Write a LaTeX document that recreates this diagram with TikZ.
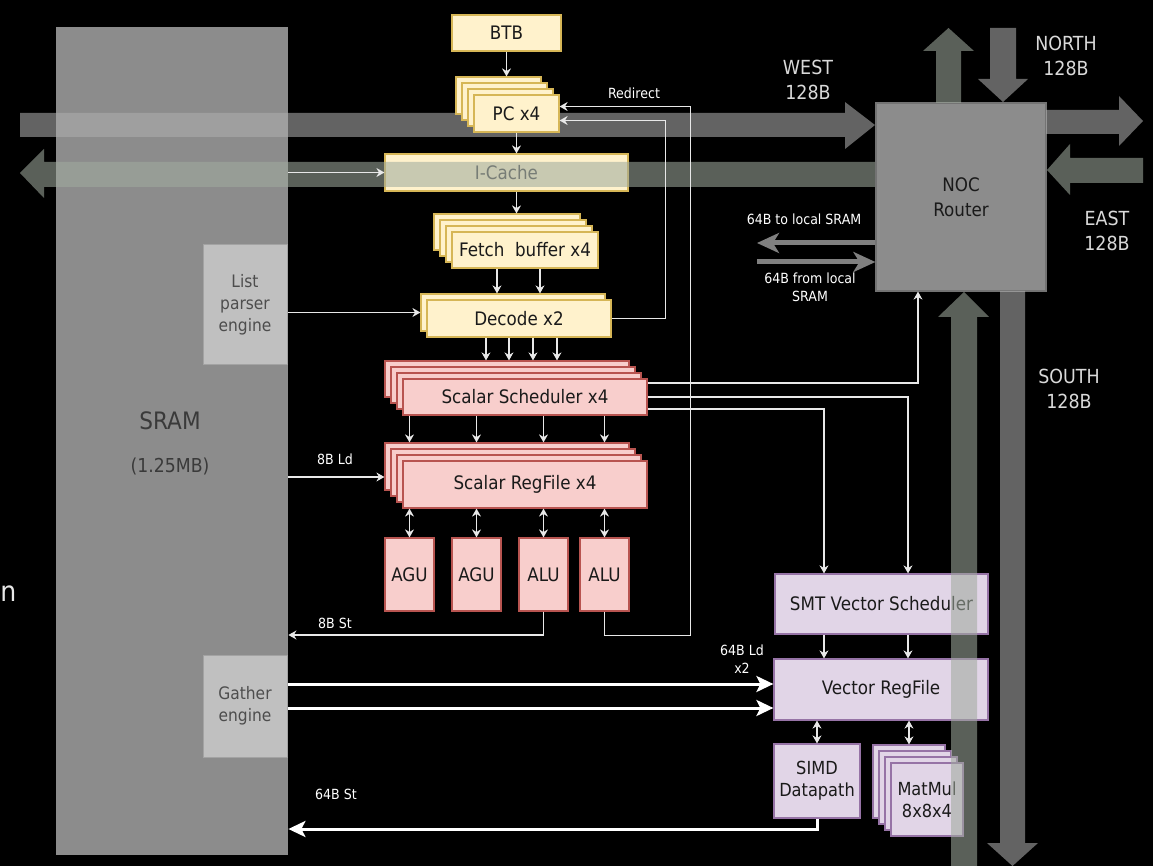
\documentclass[tikz,border=0pt]{standalone}
\usepackage{fontspec}
\setmainfont{DejaVu Sans}[FakeStretch=0.9]
\usetikzlibrary{arrows.meta, calc}

\definecolor{ylwfill}{HTML}{FFF2CC}
\definecolor{ylwline}{HTML}{D6B656}
\definecolor{redfill}{HTML}{F8CECC}
\definecolor{redline}{HTML}{B85450}
\definecolor{purfill}{HTML}{E1D5E7}
\definecolor{purline}{HTML}{9673A6}
\definecolor{sramfill}{HTML}{8C8C8C}
\definecolor{sramtext}{HTML}{3A3A3A}
\definecolor{engfill}{HTML}{C0C0C0}
\definecolor{engtext}{HTML}{4D4D4D}
\definecolor{routerline}{HTML}{737373}
\definecolor{boxtext}{HTML}{1A1A1A}
\definecolor{wline}{HTML}{E8E8E8}
\definecolor{dirtext}{HTML}{D9D9D9}
\definecolor{nocline}{HTML}{808080}
\definecolor{bandgray}{RGB}{175,175,175}
\definecolor{bandgreen}{RGB}{160,170,158}

\begin{document}
\begin{tikzpicture}[
  x=0.5pt, y=-0.5pt,
  font=\fontsize{9.3}{12}\selectfont,
  every node/.style={align=center, inner sep=0pt},
  spot/.style args={#1/#2/#3/#4}{at={({((#1)+(#3))/2},{((#2)+(#4))/2})},
    minimum width={((#3)-(#1))*0.5pt}, minimum height={((#4)-(#2))*0.5pt}},
  ybox/.style={draw=ylwline, fill=ylwfill, line width=0.6pt, text=boxtext},
  rbox/.style={draw=redline, fill=redfill, line width=0.6pt, text=boxtext},
  pbox/.style={draw=purline, fill=purfill, line width=0.6pt, text=boxtext},
  engbox/.style={fill=engfill, draw=engfill!85!black, line width=0.5pt, text=engtext,
    font=\fontsize{8.6}{11}\selectfont},
  twoline/.style={font=\fontsize{9}{11}\selectfont},
  arr/.style={-{Stealth[length=4pt,width=4.5pt]}, line width=0.65pt, draw=wline},
  dbl/.style={arr, {Stealth[length=4pt,width=4.5pt]}-{Stealth[length=4pt,width=4.5pt]}},
  fat/.style={-{Stealth[length=8.5pt,width=8pt,inset=2pt]}, line width=1.5pt, draw=white},
  noc/.style={-{Stealth[length=11pt,width=10pt,inset=3pt]}, line width=2.5pt, draw=nocline},
  lbl/.style={font=\fontsize{7}{9}\selectfont, text=white},
  dir/.style={font=\fontsize{9.7}{12.5}\selectfont, text=dirtext},
  band/.style={fill=bandgray, fill opacity=0.57},
  bandg/.style={fill=bandgreen, fill opacity=0.57},
]

\useasboundingbox (0,0) rectangle (1153,866);
\fill[black] (0,0) rectangle (1153,866);

% local memory
\node[fill=sramfill, spot=56/27/288/855] (sram) {};
\node[font=\fontsize{12}{14}\selectfont, text=sramtext] (sramname) at (170,421) {SRAM};
\node[font=\fontsize{9.6}{12}\selectfont, text=sramtext] (sramsize) at (170,466) {(1.25MB)};
\node[engbox, spot=203/245/287/365] (list) {List\\parser\\engine};
\node[engbox, spot=203/655/287/757] (gather) {Gather\\engine};

\node[ybox, text=black!74, spot=385/154/628/191] (icache) {I-Cache};

% NoC links
\fill[band] (20,113) -- (845,113) -- (845,102) -- (875,125) -- (845,149) -- (845,137) -- (20,137) -- cycle;
\fill[bandg] (876,162) -- (44,162) -- (44,149) -- (20,173) -- (44,198) -- (44,187) -- (876,187) -- cycle;

\node[fill=sramfill, draw=routerline, line width=0.6pt, text=boxtext,
      font=\fontsize{9.3}{12.5}\selectfont, spot=876/103/1046/291] (router) {NOC\\Router};

\fill[bandg] (936,103) -- (936,51) -- (923,51) -- (948.5,28) -- (974,51) -- (961,51) -- (961,103) -- cycle;
\fill[band] (990,28) -- (990,79) -- (978,79) -- (1003,102) -- (1028,79) -- (1016,79) -- (1016,28) -- cycle;
\fill[band] (1046,110) -- (1119,110) -- (1119,96) -- (1143,121) -- (1119,146) -- (1119,134) -- (1046,134) -- cycle;
\fill[bandg] (1143,158) -- (1070,158) -- (1070,144) -- (1047,170) -- (1070,195) -- (1070,183) -- (1143,183) -- cycle;
\fill[band] (1000,291) -- (1000,843) -- (987,843) -- (1012.5,866) -- (1038,843) -- (1025,843) -- (1025,291) -- cycle;

\coordinate (tolocal) at (757,243);
\coordinate (fromlocal) at (757,262);
\draw[noc] (router.west |- tolocal) -- (tolocal);
\draw[noc] (fromlocal) -- (router.west |- fromlocal);

% front end
\node[ybox, spot=452/15/561/51] (btb) {BTB};
\foreach \d in {18,12,6}
  \node[ybox, spot={474-\d}/{95-\d}/{559-\d}/{132-\d}] (pc-\d) {};
\node[ybox, spot=474/95/559/132] (pc) {PC x4};
\foreach \d in {18,12,6}
  \node[ybox, spot={452-\d}/{232-\d}/{598-\d}/{268-\d}] (fetch-\d) {};
\node[ybox, spot=452/232/598/268] (fetch) {Fetch~ buffer x4};
\node[ybox, spot=421/294/605/331] (dec-6) {};
\node[ybox, spot=427/300/611/337] (dec) {Decode x2};

% scalar back end
\foreach \d in {18,12,6}
  \node[rbox, spot={403-\d}/{379-\d}/{647-\d}/{415-\d}] (sch-\d) {};
\node[rbox, spot=403/379/647/415] (sch) {Scalar Scheduler x4};
\foreach \d in {18,12,6}
  \node[rbox, spot={403-\d}/{461-\d}/{647-\d}/{508-\d}] (rf-\d) {};
\node[rbox, spot=403/461/647/508] (rf) {Scalar RegFile x4};
\node[rbox, spot=385/538/434/611] (agu1) {AGU};
\node[rbox, spot=452/538/501/611] (agu2) {AGU};
\node[rbox, spot=519/538/568/611] (alu1) {ALU};
\node[rbox, spot=580/538/629/611] (alu2) {ALU};

% vector back end
\node[pbox, spot=775/574/988/634] (vsch) {SMT Vector Scheduler};
\node[pbox, spot=774/659/988/720] (vrf) {Vector RegFile};
\node[pbox, twoline, spot=774/744/860/818] (simd) {SIMD\\Datapath};
\foreach \d in {18,12,6}
  \node[pbox, spot={891-\d}/{763-\d}/{963-\d}/{836-\d}] (mm-\d) {};
\node[pbox, twoline, spot=891/763/963/836] (mm) {MatMul\\8x8x4};

\fill[bandg] (951,866) -- (951,317) -- (938,317) -- (964,292) -- (989,317) -- (977,317) -- (977,866) -- cycle;

% connections
\draw[arr] (btb.south) -- (btb.south |- pc-18.north);
\draw[arr] (pc) -- (pc |- icache.north);
\draw[arr] (pc.south |- icache.south) -- (pc.south |- fetch-18.north);
\draw[arr] (sram.east |- icache.west) -- (icache.west);
\foreach \x in {497,540}
  \draw[arr] (fetch.south -| \x,0) -- (dec-6.north -| \x,0);
\draw[arr] (list.east |- dec-6.west) -- (dec-6.west);
\foreach \x in {486,509,533,557}
  \draw[arr] (dec.south -| \x,0) -- (sch-18.north -| \x,0);
\draw[arr] (dec.east) -- ++(54,0) |- ($(pc.east)+(0,7)$);
\draw[arr] (alu2.south) -- ++(0,24) -- ++(86,0) |- ($(pc.east)+(0,-7)$);
\foreach \u in {agu1,agu2,alu1,alu2} {
  \draw[arr] (sch.south -| \u) -- (rf-18.north -| \u);
  \draw[dbl] (rf.south -| \u) -- (\u.north);
}
\draw[arr] (sram.east |- 0,477) -- (rf-18.west |- 0,477);
\draw[arr] (alu1.south) |- (sram.east |- 0,635);
\draw[arr] ($(sch.east)+(0,-14)$) -| (router.south -| 918,0);
\draw[arr] (sch.east) -| (vsch.north -| 908,0);
\draw[arr] ($(sch.east)+(0,12)$) -| (vsch.north -| 824,0);
\foreach \x in {824,908}
  \draw[arr] (vsch.south -| \x,0) -- (vrf.north -| \x,0);
\draw[dbl] (vrf.south -| simd.north) -- (simd.north);
\draw[dbl] (vrf.south -| mm-18.north) -- (mm-18.north);
\foreach \dy in {-22,2}
  \draw[fat] ($(gather.east)+(0,\dy)$) -- ($(gather.east -| vrf.west)+(0,\dy)$);
\draw[fat] (simd.south) |- (sram.east |- 0,829);

% labels
\node[lbl] (redirect) at (634,93) {Redirect};
\node[lbl] (ldscalar) at (335,459) {8B Ld};
\node[lbl] (stscalar) at (335,623) {8B St};
\node[lbl] (ldvector) at (742,659) {64B Ld\\x2};
\node[lbl] (stvector) at (336,794) {64B St};
\node[lbl] (tolocallbl) at (804,219) {64B to local SRAM};
\node[lbl] (fromlocallbl) at (810,287) {64B from local\\SRAM};
\node[dir] (west) at (808,80) {WEST\\128B};
\node[dir] (north) at (1066,56) {NORTH\\128B};
\node[dir] (east) at (1107,231) {EAST\\128B};
\node[dir] (south) at (1069,389) {SOUTH\\128B};
\node[anchor=west, text=wline, font=\fontsize{14}{16}\selectfont] (cut) at (0,594) {n};

\end{tikzpicture}
\end{document}
